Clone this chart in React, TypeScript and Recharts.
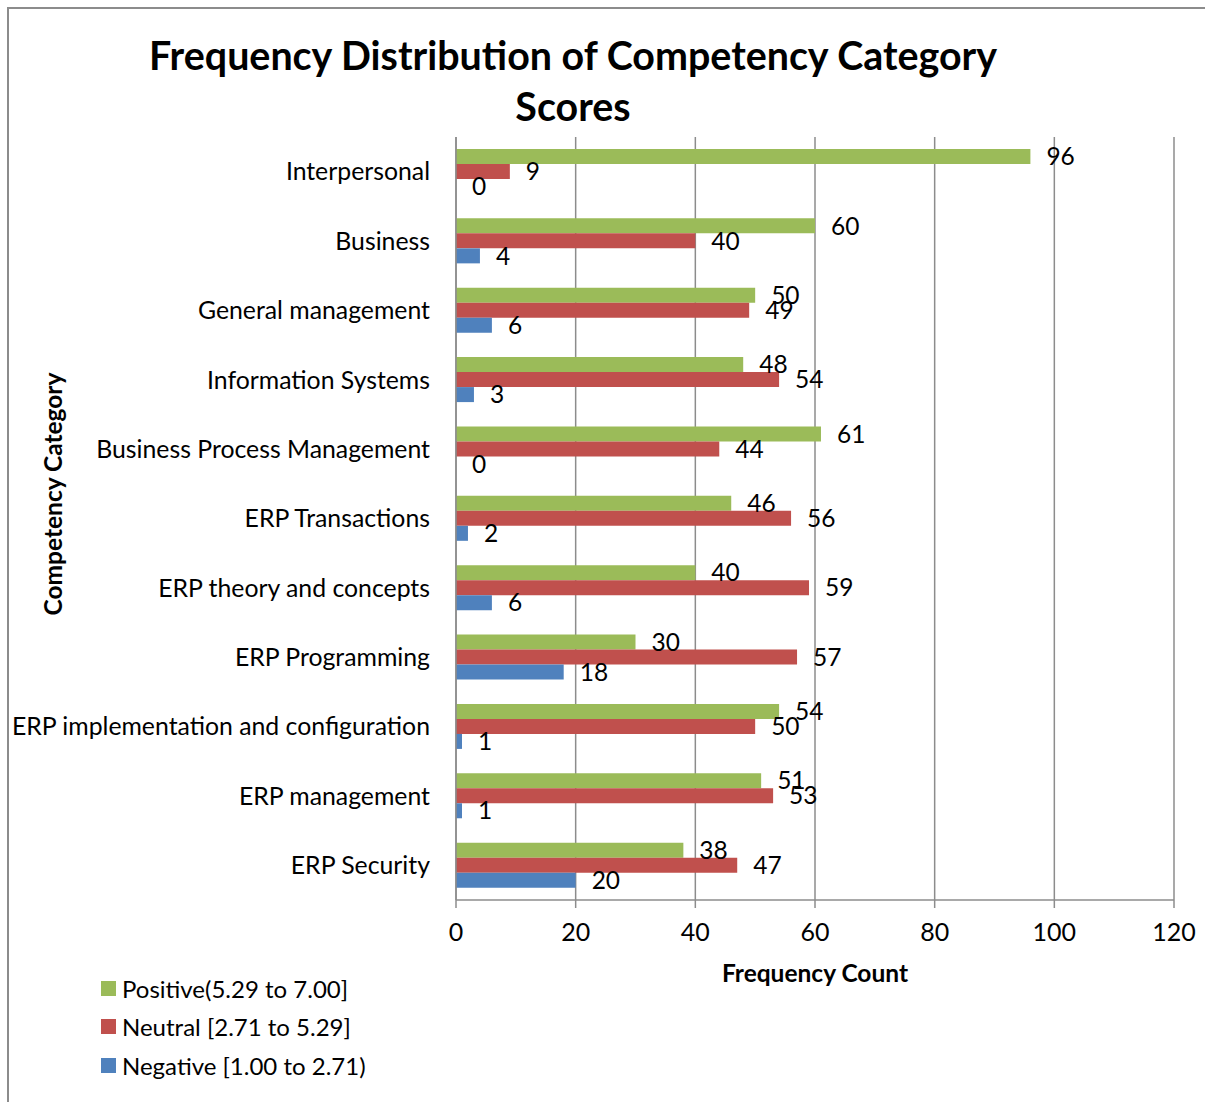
import { BarChart, Bar, XAxis, YAxis, CartesianGrid, LabelList } from "recharts";

const categories = [
  "Interpersonal",
  "Business",
  "General management",
  "Information Systems",
  "Business Process Management",
  "ERP Transactions",
  "ERP theory and concepts",
  "ERP Programming",
  "ERP implementation and configuration",
  "ERP management",
  "ERP Security",
];

const positive = [96, 60, 50, 48, 61, 46, 40, 30, 54, 51, 38];
const neutral = [9, 40, 49, 54, 44, 56, 59, 57, 50, 53, 47];
const negative = [0, 4, 6, 3, 0, 2, 6, 18, 1, 1, 20];

const xTicks = [0, 20, 40, 60, 80, 100, 120];

const series = [
  { key: "positive", name: "Positive(5.29 to 7.00]", color: "#9BBB59" },
  { key: "neutral", name: "Neutral [2.71 to 5.29]", color: "#C0504D" },
  { key: "negative", name: "Negative [1.00 to 2.71)", color: "#4F81BD" },
];

const data = categories.map((name, i) => ({
  name,
  positive: positive[i],
  neutral: neutral[i],
  negative: negative[i],
}));

const font = "Lato, 'Open Sans', sans-serif";
const axisGray = "#8c8c8c";

export default function App() {
  return (
    <div
      style={{
        position: "fixed",
        left: 0,
        top: 0,
        width: 1205,
        height: 1102,
        background: "#fff",
        fontFamily: font,
        color: "#000",
      }}
    >
      {/* frame */}
      <div
        style={{
          position: "absolute",
          left: 7,
          top: 7,
          width: 1198,
          height: 1095,
          borderLeft: `2px solid ${axisGray}`,
          borderTop: `2px solid ${axisGray}`,
          boxSizing: "border-box",
        }}
      />

      <div
        style={{
          position: "absolute",
          left: 0,
          top: 29,
          width: 1146,
          textAlign: "center",
          fontWeight: 700,
          fontSize: 39.4,
          lineHeight: "51px",
        }}
      >
        Frequency Distribution of Competency Category
        <br />
        Scores
      </div>

      <div
        style={{
          position: "absolute",
          left: 52,
          top: 494,
          transform: "translate(-50%, -50%) rotate(-90deg)",
          whiteSpace: "nowrap",
          fontWeight: 700,
          fontSize: 24.5,
        }}
      >
        Competency Category
      </div>

      <div style={{ position: "absolute", left: 0, top: 0 }}>
        <BarChart
          width={1205}
          height={1102}
          data={data}
          layout="vertical"
          margin={{ top: 137, right: 31, bottom: 142, left: 10 }}
          barSize={15}
          barGap={0}
          style={{ fontFamily: font }}
        >
          <CartesianGrid horizontal={false} stroke={axisGray} strokeWidth={1.5} />
          <XAxis
            type="number"
            domain={[0, 120]}
            ticks={xTicks}
            interval={0}
            height={60}
            tickSize={8}
            tickMargin={15}
            stroke={axisGray}
            strokeWidth={1.5}
            tick={{ fill: "#000", fontSize: 25 }}
            label={{
              value: "Frequency Count",
              position: "bottom",
              offset: 5,
              fill: "#000",
              fontSize: 24.5,
              fontWeight: 700,
            }}
          />
          <YAxis
            type="category"
            dataKey="name"
            width={446}
            tickLine={false}
            tickSize={0}
            tickMargin={26}
            interval={0}
            stroke={axisGray}
            strokeWidth={1.5}
            tick={{ fill: "#000", fontSize: 24.8 }}
          />
          {series.map((s) => (
            <Bar
              key={s.key}
              dataKey={s.key}
              name={s.name}
              fill={s.color}
              minPointSize={0.01}
              isAnimationActive={false}
            >
              <LabelList
                dataKey={s.key}
                position="right"
                offset={16}
                fill="#000"
                fontSize={24.5}
              />
            </Bar>
          ))}
        </BarChart>
      </div>

      {/* legend */}
      <div style={{ position: "absolute", left: 101, top: 969 }}>
        {series.map((s) => (
          <div
            key={s.key}
            style={{
              display: "flex",
              alignItems: "center",
              height: 38.5,
              fontSize: 24,
            }}
          >
            <span
              style={{
                display: "inline-block",
                width: 15,
                height: 15,
                background: s.color,
                marginRight: 6,
              }}
            />
            {s.name}
          </div>
        ))}
      </div>
    </div>
  );
}
